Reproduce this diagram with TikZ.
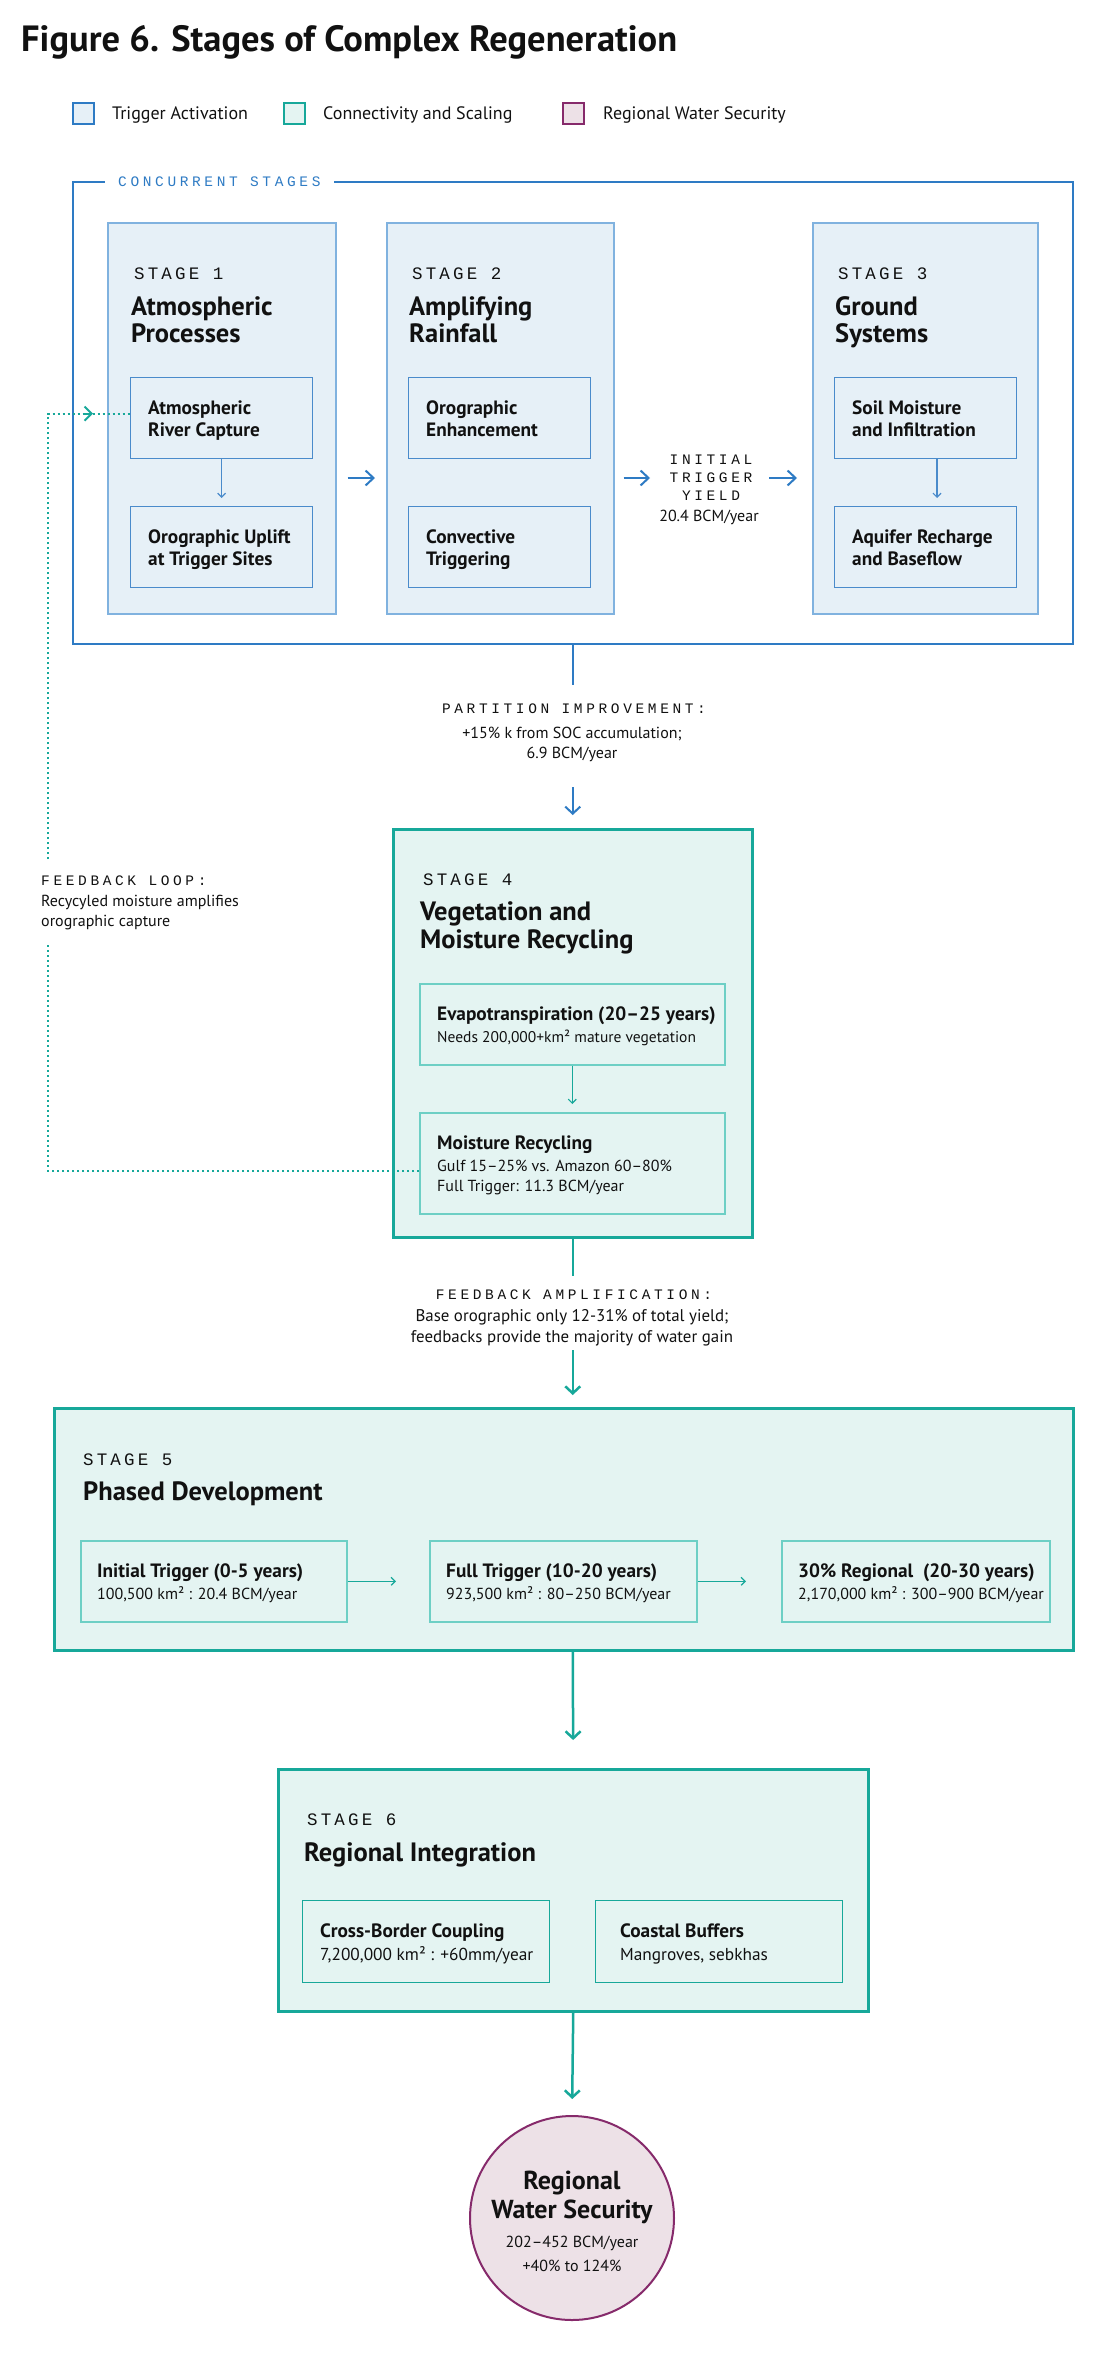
\documentclass[tikz,border=0pt]{standalone}
\usepackage{fontspec}
\setmainfont{PT Sans}
\newfontfamily\monoS{Liberation Mono}[LetterSpace=25]
\newfontfamily\monoB{Liberation Mono}[LetterSpace=18]
\usetikzlibrary{arrows.meta,calc}

\definecolor{bstroke}{HTML}{2E7BC4}
\definecolor{blight}{HTML}{80B2DF}
\definecolor{bsub}{HTML}{4A8BCB}
\definecolor{bfill}{HTML}{E6F0F7}
\definecolor{tstroke}{HTML}{17A89A}
\definecolor{tlight}{HTML}{6DCFC5}
\definecolor{tfill}{HTML}{E4F4F2}
\definecolor{pstroke}{HTML}{862A6B}
\definecolor{pfill}{HTML}{EDE1E7}
\definecolor{ink}{HTML}{111111}

\newcommand\fTitle{\fontsize{36.5}{42}\selectfont\bfseries}
\newcommand\fStage{\fontsize{26.5}{30}\selectfont\bfseries}
\newcommand\fSub{\fontsize{19.3}{22}\selectfont\bfseries}
\newcommand\fBody{\fontsize{16}{19}\selectfont}
\newcommand\fBodyL{\fontsize{17.3}{20}\selectfont}
\newcommand\fBodyM{\fontsize{16.9}{20}\selectfont}
\newcommand\fLeg{\fontsize{18}{21}\selectfont}
\newcommand\fMonoL{\monoB\fontsize{17.5}{20}\selectfont}
\newcommand\fMonoS{\monoS\fontsize{14.5}{17}\selectfont}
\newcommand\fCirc{\fontsize{26}{30}\selectfont\bfseries}

\begin{document}
\begin{tikzpicture}[x=1pt,y=-1pt,
  txt/.style={inner sep=0pt, anchor=base west, text=ink},
  ctxt/.style={inner sep=0pt, anchor=base, text=ink},
  rbox/.style={rectangle, inner sep=0pt, anchor=north west},
  legsq/.style={rbox, minimum width=21pt, minimum height=21pt, line width=1.6pt},
  stagebox/.style={rbox, draw=blight, fill=bfill, line width=1.5pt},
  bsubbox/.style={rbox, draw=bsub, fill=bfill, line width=1.2pt, minimum width=182pt, minimum height=81pt},
  tstagebox/.style={rbox, draw=tstroke, fill=tfill, line width=2.5pt},
  tsubbox/.style={rbox, draw=tlight, fill=tfill, line width=1.6pt},
  bline/.style={draw=bstroke, line width=2pt},
  tline/.style={draw=tstroke, line width=2.5pt},
  bigtip/.style={-{Straight Barb[length=7pt,width=15pt]}},
  midtip/.style={-{Straight Barb[length=8pt,width=15pt]}},
  smalltip/.style={-{Straight Barb[length=4pt,width=8pt]}},
  fb/.style={draw=tstroke, line width=2pt, dash pattern=on 2pt off 3pt}
]
\useasboundingbox (0,0) rectangle (1100,2366);
\fill[white] (0,0) rectangle (1100,2366);

% ---------- title ----------
\node[txt, font=\fTitle] (title) at (21,52) {Figure 6. Stages of Complex Regeneration};

% ---------- legend ----------
\node[legsq, draw=bstroke, fill=bfill] (lg1) at (72,102) {};
\node[legsq, draw=tstroke, fill=tfill] (lg2) at (283,102) {};
\node[legsq, draw=pstroke, fill=pfill] (lg3) at (562,102) {};
\node[txt, font=\fLeg] (lt1) at (112,119.5) {Trigger Activation};
\node[txt, font=\fLeg] (lt2) at (323,119.5) {Connectivity and Scaling};
\node[txt, font=\fLeg] (lt3) at (603,119.5) {Regional Water Security};

% ---------- concurrent frame ----------
\node[rbox, draw=bstroke, line width=2pt, minimum width=1000pt, minimum height=462pt] (frame) at (72,181) {};
\node[anchor=base west, fill=white, inner xsep=13pt, inner ysep=3pt, font=\fMonoS, text=bstroke] (cs) at (105,186) {CONCURRENT STAGES};

% stage boxes
\node[stagebox, minimum width=228pt, minimum height=391pt] (s1) at (107,222) {};
\node[stagebox, minimum width=227pt, minimum height=391pt] (s2) at (386,222) {};
\node[stagebox, minimum width=225pt, minimum height=391pt] (s3) at (812,222) {};

\node[txt, font=\fMonoL] (s1l) at (134,279) {STAGE 1};
\node[txt, font=\fStage] (s1t1) at (131,315) {Atmospheric};
\node[txt, font=\fStage] (s1t2) at (131,342) {Processes};
\node[txt, font=\fMonoL] (s2l) at (412,279) {STAGE 2};
\node[txt, font=\fStage] (s2t1) at (409,315) {Amplifying};
\node[txt, font=\fStage] (s2t2) at (409,342) {Rainfall};
\node[txt, font=\fMonoL] (s3l) at (838,279) {STAGE 3};
\node[txt, font=\fStage] (s3t1) at (835,315) {Ground};
\node[txt, font=\fStage] (s3t2) at (835,342) {Systems};

% sub boxes
\node[bsubbox] (b1a) at (130,377) {};
\node[bsubbox] (b1b) at (130,506) {};
\node[bsubbox] (b2a) at (408,377) {};
\node[bsubbox] (b2b) at (408,506) {};
\node[bsubbox] (b3a) at (834,377) {};
\node[bsubbox] (b3b) at (834,506) {};

\node[txt, font=\fSub] at (148,414) {Atmospheric};
\node[txt, font=\fSub] at (148,436) {River Capture};
\node[txt, font=\fSub] at (148,543) {Orographic Uplift};
\node[txt, font=\fSub] at (148,565) {at Trigger Sites};
\node[txt, font=\fSub] at (426,414) {Orographic};
\node[txt, font=\fSub] at (426,436) {Enhancement};
\node[txt, font=\fSub] at (426,543) {Convective};
\node[txt, font=\fSub] at (426,565) {Triggering};
\node[txt, font=\fSub] at (852,414) {Soil Moisture};
\node[txt, font=\fSub] at (852,436) {and Infiltration};
\node[txt, font=\fSub] at (852,543) {Aquifer Recharge};
\node[txt, font=\fSub] at (852,565) {and Baseflow};

\draw[draw=bsub, line width=1.2pt, smalltip, shorten >=8pt] (b1a.south) -- (b1b.north);
\coordinate (c3) at (937,0);
\draw[draw=bsub, line width=1.2pt, smalltip, shorten >=8pt] (b3a.south -| c3) -- (b3b.north -| c3);

% yield label
\coordinate (yl) at (709,478);
\node[ctxt, font=\fMonoS] (yl1) at (711,464.5) {INITIAL};
\node[ctxt, font=\fMonoS] (yl2) at (711,482.5) {TRIGGER};
\node[ctxt, font=\fMonoS] (yl3) at (711,500.5) {YIELD};
\node[ctxt, font=\fBody] (yl4) at (709,521.5) {20.4 BCM/year};

\coordinate (arrY) at (0,478);
\draw[bline, midtip, shorten <=11pt, shorten >=11pt] (s1.east |- arrY) -- (s2.west |- arrY);
\draw[bline, midtip, shorten <=9pt, shorten >=59pt] (s2.east |- arrY) -- (yl);
\draw[bline, midtip, shorten <=60pt, shorten >=15pt] (yl) -- (s3.west |- arrY);

% ---------- partition ----------
\draw[bline] (frame.south) -- ++(0,40);
\node[ctxt, font=\fMonoS] (pi1) at (574,713.5) {PARTITION IMPROVEMENT:};
\node[ctxt, font=\fBody] (pi2) at (572,738.5) {+15\% k from SOC accumulation;};
\node[ctxt, font=\fBody] (pi3) at (572,758.5) {6.9 BCM/year};

% ---------- stage 4 ----------
\node[tstagebox, minimum width=359pt, minimum height=408pt] (s4) at (392,828) {};
\draw[bline, bigtip, shorten >=13pt] (s4.north) ++(0,-41) -- (s4.north);
\node[txt, font=\fMonoL] (s4l) at (423,885) {STAGE 4};
\node[txt, font=\fStage] (s4t1) at (420,920) {Vegetation and};
\node[txt, font=\fStage] (s4t2) at (420,948) {Moisture Recycling};

\node[tsubbox, minimum width=305pt, minimum height=81pt] (b4a) at (419,983) {};
\node[tsubbox, minimum width=305pt, minimum height=101pt] (b4b) at (419,1112) {};
\node[txt, font=\fSub] at (437,1020) {Evapotranspiration (20–25 years)};
\node[txt, font=\fontsize{15.5}{18}\selectfont] at (437,1042.5) {Needs 200,000+km² mature vegetation};
\node[txt, font=\fSub] at (437,1149) {Moisture Recycling};
\node[txt, font=\fBody] at (437,1171.5) {Gulf 15–25\% vs. Amazon 60–80\%};
\node[txt, font=\fBody] at (437,1191.5) {Full Trigger: 11.3 BCM/year};
\draw[draw=tstroke, line width=1.2pt, smalltip, shorten >=8pt] (b4a.south) -- (b4b.north);

% ---------- feedback loop ----------
\coordinate (fbBot) at (48,943);
\coordinate (fbTop) at (48,859);
\draw[fb] ([yshift=-7.5pt]b4b.west) -| (fbBot);
\draw[fb] (fbTop) |- ([yshift=4.5pt]b1a.west) coordinate[pos=1] (fbEnd);
\draw[draw=tstroke, line width=2pt, -{Straight Barb[length=7pt,width=14pt]}] ([xshift=-47pt]fbEnd) -- ([xshift=-37pt]fbEnd);
\node[txt, font=\fMonoS] (fbl1) at (41,885.5) {FEEDBACK LOOP:};
\node[txt, font=\fBody] (fbl2) at (41,906) {Recycyled moisture amplifies};
\node[txt, font=\fBody] (fbl3) at (41,926) {orographic capture};

% ---------- stage 5 ----------
\node[tstagebox, minimum width=1019pt, minimum height=242pt] (s5) at (53,1407) {};
\draw[tline] (s4.south) -- ++(0,37);
\node[ctxt, font=\fMonoS] (fa1) at (574,1299.5) {FEEDBACK AMPLIFICATION:};
\node[ctxt, font=\fBodyM] (fa2) at (572,1321) {Base orographic only 12-31\% of total yield;};
\node[ctxt, font=\fBodyM] (fa3) at (572,1342) {feedbacks provide the majority of water gain};
\draw[tline, bigtip, shorten >=12pt] (s4.south |- s5.north) ++(0,-57) -- (s4.south |- s5.north);

\node[txt, font=\fMonoL] (s5l) at (83,1465) {STAGE 5};
\node[txt, font=\fStage] (s5t) at (83,1500) {Phased Development};

\node[tsubbox, minimum width=266pt, minimum height=81pt] (b5a) at (80,1540) {};
\node[tsubbox, minimum width=267pt, minimum height=81pt] (b5b) at (429,1540) {};
\node[tsubbox, minimum width=268pt, minimum height=81pt] (b5c) at (781,1540) {};
\node[txt, font=\fSub] at (97,1577) {Initial Trigger (0-5 years)};
\node[txt, font=\fBody] at (97,1599) {100,500 km² : 20.4 BCM/year};
\node[txt, font=\fSub] at (446,1577) {Full Trigger (10-20 years)};
\node[txt, font=\fBody] at (446,1599) {923,500 km² : 80–250 BCM/year};
\node[txt, font=\fSub] at (798,1577) {30\% Regional\ \ (20-30 years)};
\node[txt, font=\fBody] at (798,1599) {2,170,000 km² : 300–900 BCM/year};
\draw[draw=tstroke, line width=1.2pt, smalltip, shorten >=33pt] (b5a.east) -- (b5b.west);
\draw[draw=tstroke, line width=1.2pt, smalltip, shorten >=35pt] (b5b.east) -- (b5c.west);

% ---------- stage 6 ----------
\node[tstagebox, minimum width=590pt, minimum height=242pt] (s6) at (277,1768) {};
\draw[tline, bigtip, shorten >=28pt] (s4.south |- s5.south) -- (s6.north);
\node[txt, font=\fMonoL] (s6l) at (307,1825) {STAGE 6};
\node[txt, font=\fStage] (s6t) at (304,1861) {Regional Integration};
\node[rbox, draw=tstroke, fill=tfill, line width=1.4pt, minimum width=247pt, minimum height=82pt] (b6a) at (302,1900) {};
\node[rbox, draw=tstroke, fill=tfill, line width=1.4pt, minimum width=247pt, minimum height=82pt] (b6b) at (595,1900) {};
\node[txt, font=\fSub] at (320,1937) {Cross-Border Coupling};
\node[txt, font=\fBodyL] at (320,1960) {7,200,000 km² : +60mm/year};
\node[txt, font=\fSub] at (620,1937) {Coastal Buffers};
\node[txt, font=\fBodyL] at (620,1960) {Mangroves, sebkhas};

% ---------- outcome ----------
\node[circle, draw=pstroke, fill=pfill, line width=2pt, minimum size=204pt, inner sep=0pt] (ws) at (572,2218) {};
\draw[tline, bigtip, shorten >=16pt] (s6.south) -- (ws.north);
\node[ctxt, font=\fCirc] at (572,2189) {Regional};
\node[ctxt, font=\fCirc] at (572,2218) {Water Security};
\node[ctxt, font=\fBody] at (572,2247.5) {202–452 BCM/year};
\node[ctxt, font=\fBody] at (572,2271.5) {+40\% to 124\%};
\end{tikzpicture}
\end{document}
